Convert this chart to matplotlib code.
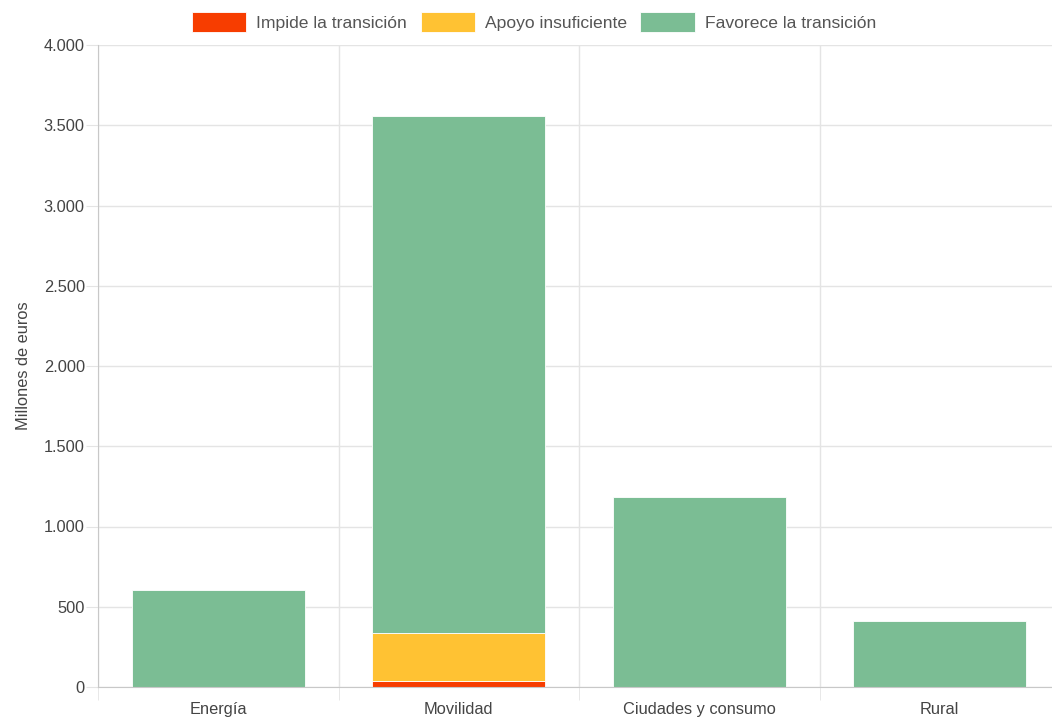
import numpy as np
import matplotlib
matplotlib.use("Agg")
import matplotlib.pyplot as plt
from matplotlib.ticker import FuncFormatter

plt.rcParams['font.family'] = ['Liberation Sans', 'DejaVu Sans']

categorias = ['Energía', 'Movilidad', 'Ciudades y consumo', 'Rural']
impide = [0, 40, 0, 0]
insuficiente = [0, 295, 0, 0]
favorece = [605, 3220, 1185, 410]

series = ['Impide la transición', 'Apoyo insuficiente', 'Favorece la transición']
colores = ['#f73d00', '#ffc233', '#7bbd94']

fig = plt.figure(figsize=(10.52, 7.18), dpi=100)
# el área del gráfico se sale un poco por la derecha, como en la original
ax = fig.add_axes([98/1052, 31/718, 962/1052, 642/718])

x = np.arange(len(categorias))
base = np.zeros(len(categorias))
for nombre, vals, c in zip(series, [impide, insuficiente, favorece], colores):
    ax.bar(x, vals, width=0.72, bottom=base, color=c, label=nombre,
           edgecolor='#ffffff', linewidth=0.6, zorder=3)
    base += np.array(vals)

ax.set_xlim(-0.5, 3.5)
ax.set_ylim(0, 4000)
ax.set_yticks(np.arange(0, 4001, 500))
ax.yaxis.set_major_formatter(FuncFormatter(lambda v, p: f'{int(v):,}'.replace(',', '.')))
ax.set_xticks(x)
ax.set_xticklabels(categorias)
ax.set_xticks([-0.5, 0.5, 1.5, 2.5, 3.5], minor=True)

txt_c = '#444444'
grid_c = '#e4e4e4'
ax.grid(axis='y', color=grid_c, linewidth=1, zorder=0)
ax.grid(axis='x', which='minor', color=grid_c, linewidth=1, zorder=0)
ax.tick_params(axis='y', length=9, color=grid_c, labelsize=11.8, labelcolor=txt_c, pad=0.5)
ax.tick_params(axis='x', which='major', length=0, labelsize=11.8, labelcolor=txt_c, pad=11)
ax.tick_params(axis='x', which='minor', length=9, color=grid_c)

for s in ['top', 'right']:
    ax.spines[s].set_visible(False)
ax.spines['left'].set_color('#c8c8c8')
ax.spines['bottom'].set_color('#c8c8c8')
ax.spines['left'].set_zorder(4)
ax.spines['bottom'].set_zorder(4)

ax.set_ylabel('Millones de euros', fontsize=11.8, color=txt_c, labelpad=9)

fig.legend(loc='center', bbox_to_anchor=(534/1052, 1 - 22/718), ncol=3, frameon=False,
           fontsize=12.6, handlelength=3.1, handleheight=1.3, handletextpad=0.56,
           columnspacing=0.78, labelcolor='#555555')

fig.savefig('out.png', dpi=100)
